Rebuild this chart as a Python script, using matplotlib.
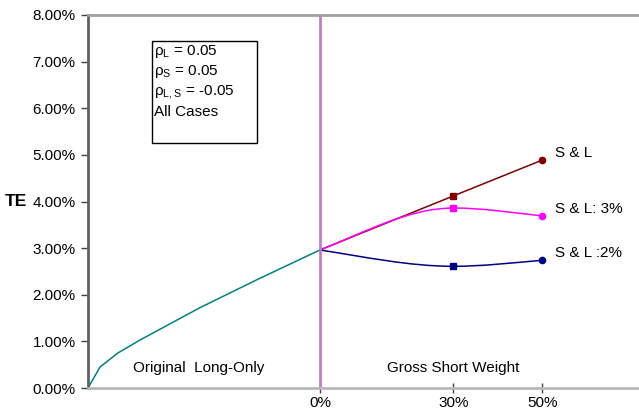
import matplotlib
matplotlib.use("Agg")
import matplotlib.pyplot as plt
from matplotlib.path import Path
from matplotlib.patches import PathPatch, Rectangle
import numpy as np

plt.rcParams['font.family'] = ['Liberation Sans', 'DejaVu Sans']
plt.rcParams['mathtext.default'] = 'regular'

# long-only part (left of the 0% line), x in gross short weight units
long_x = [-52.1, -49.4, -45.4, -40.4, -27.0, -14.2, 0.0]
long_te = [0.00, 0.45, 0.75, 1.03, 1.72, 2.32, 2.96]

# short extension
short_x = [0, 30, 50]
sl = [2.96, 4.12, 4.89]
sl_3 = [2.96, 3.86, 3.69]
sl_2 = [2.96, 2.61, 2.74]

series_names = ["S & L", "S & L: 3%", "S & L :2%"]
series_colors = ["#800000", "#FF00FF", "#000080"]

y_ticks = [0, 1, 2, 3, 4, 5, 6, 7, 8]
x_ticks = [0, 30, 50]
x_ticklabels = ["0%", "30%", "50%"]

box_lines = ["ρ$_{L}$ = 0.05", "ρ$_{S}$ = 0.05", "ρ$_{L,S}$ = -0.05", "All Cases"]


def smooth_path(xs, ys):
    # cubic bezier through the points, flat at interior extrema
    xs = np.asarray(xs, float)
    ys = np.asarray(ys, float)
    d = np.diff(ys) / np.diff(xs)
    m = np.zeros(len(xs))
    for i in range(1, len(xs) - 1):
        m[i] = 0.0 if d[i - 1] * d[i] <= 0 else (d[i - 1] + d[i]) / 2
    m[0] = d[0] + (d[0] - m[1]) / 4
    m[-1] = d[-1] + (d[-1] - m[-2]) / 4
    verts = [(xs[0], ys[0])]
    codes = [Path.MOVETO]
    for i in range(len(xs) - 1):
        h = xs[i + 1] - xs[i]
        verts += [(xs[i] + h / 3, ys[i] + m[i] * h / 3),
                  (xs[i + 1] - h / 3, ys[i + 1] - m[i + 1] * h / 3),
                  (xs[i + 1], ys[i + 1])]
        codes += [Path.CURVE4] * 3
    return Path(verts, codes)


fig = plt.figure(figsize=(6.39, 4.13), dpi=100)
ax = fig.add_axes([88 / 639, 25 / 413, 551 / 639, 373 / 413])
ax.set_xlim(-52.1, 71.7)
ax.set_ylim(0, 8)

ax.plot(long_x, long_te, color="#008080", lw=1.1)
ax.axvline(0, color="#C080C0", lw=2)

for vals, name, col in zip([sl, sl_3, sl_2], series_names, series_colors):
    ax.add_patch(PathPatch(smooth_path(short_x, vals), fill=False, edgecolor=col, lw=1.1))
    ax.plot(short_x[1], vals[1], marker="s", ms=4.5, color=col, ls="none")
    ax.plot(short_x[2], vals[2], marker="o", ms=4.5, color=col, ls="none")
    ax.text(short_x[2] + 2.8, vals[2] + 0.15, name, fontsize=11, va="center")

ax.set_yticks(y_ticks)
ax.set_yticklabels(["%.2f%%" % v for v in y_ticks], fontsize=11)
ax.set_xticks(x_ticks)
ax.set_xticklabels(x_ticklabels, fontsize=11)
ax.tick_params(axis="y", direction="out", length=5, width=1, color="#404040", pad=4)
ax.tick_params(axis="x", direction="inout", length=7, width=1, color="#404040", pad=2)

ax.spines["right"].set_visible(False)
ax.spines["left"].set_color("#606060")
ax.spines["left"].set_linewidth(2)
ax.spines["bottom"].set_color("#B8B8B8")
ax.spines["bottom"].set_linewidth(2)
ax.spines["top"].set_color("#A0A0A0")
ax.spines["top"].set_linewidth(2)

fig.text(5 / 639, 1 - 201 / 413, "TE", fontsize=12.5, fontweight="bold", va="center")

ax.text(-42, 0.43, "Original  Long-Only", fontsize=11, va="center")
ax.text(15, 0.43, "Gross Short Weight", fontsize=11, va="center")

# parameter box
fig.patches.append(Rectangle((152 / 639, 1 - 143 / 413), 105 / 639, 102 / 413,
                             transform=fig.transFigure, fill=False, ec="black", lw=1))
for i, line in enumerate(box_lines):
    fig.text(154 / 639, 1 - (51 + 20.5 * i) / 413, line, fontsize=11, va="center")

fig.savefig("out.png", dpi=100)
